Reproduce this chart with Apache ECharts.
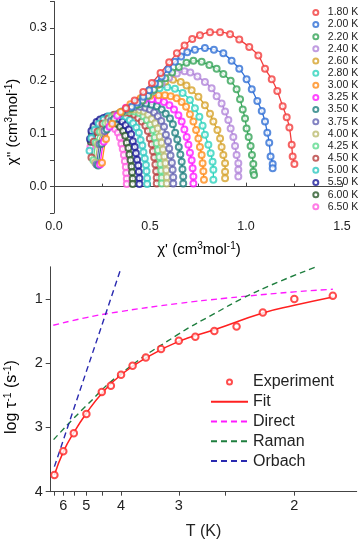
<!DOCTYPE html>
<html>
<head>
<meta charset="utf-8">
<script src="https://cdn.jsdelivr.net/npm/echarts@6/dist/echarts.min.js"></script>
<style>
html,body{margin:0;padding:0;background:#fff;}
#chart{width:358px;height:541px;}
</style>
</head>
<body>
<div id="chart"></div>
<script>
// ---------- Top panel: Cole-Cole data (chi', chi'') ----------
const tempLabels = ['1.80 K','2.00 K','2.20 K','2.40 K','2.60 K','2.80 K','3.00 K','3.25 K','3.50 K','3.75 K','4.00 K','4.25 K','4.50 K','5.00 K','5.50 K','6.00 K','6.50 K'];
const tempColors = ['#f23c3c','#2f6fd6','#35a457','#b184d9','#d6a22a','#2ed3bd','#ff8c1a','#ff1aff','#1f8080','#6464b3','#bcbc70','#5edb8f','#b84040','#2ec8c0','#1a1a99','#2a5a2a','#ff5ce0'];

const cc_180 = [[0.375,0.148],[0.42,0.163],[0.465,0.179],[0.51,0.196],[0.555,0.215],[0.6,0.235],[0.64,0.252],[0.68,0.267],[0.72,0.279],[0.76,0.286],[0.8125,0.292],[0.865,0.292],[0.917,0.288],[0.965,0.278],[1.017,0.264],[1.064,0.248],[1.099,0.223],[1.134,0.203],[1.163,0.181],[1.191,0.152],[1.212,0.131],[1.226,0.112],[1.238,0.079],[1.243,0.057],[1.252,0.043]];
const cc_200 = [[0.405,0.151],[0.434,0.159],[0.465,0.170],[0.496,0.182],[0.526,0.195],[0.561,0.208],[0.595,0.222],[0.63,0.236],[0.662,0.246],[0.694,0.254],[0.734,0.259],[0.786,0.262],[0.833,0.259],[0.882,0.252],[0.925,0.238],[0.965,0.223],[1.003,0.203],[1.03,0.184],[1.059,0.162],[1.082,0.143],[1.099,0.123],[1.111,0.102],[1.121,0.083],[1.128,0.057],[1.139,0.043],[1.139,0.035]];
const cc_220 = [[0.40,0.148],[0.43,0.155],[0.46,0.163],[0.49,0.172],[0.52,0.183],[0.55,0.194],[0.58,0.205],[0.615,0.216],[0.65,0.226],[0.69,0.234],[0.726,0.238],[0.769,0.236],[0.809,0.230],[0.847,0.223],[0.882,0.213],[0.92,0.200],[0.951,0.184],[0.969,0.165],[0.983,0.146],[0.995,0.129],[1.003,0.110],[1.014,0.094],[1.024,0.077],[1.031,0.060],[1.038,0.043],[1.038,0.028],[1.042,0.022]];
const cc_240 = [[0.40,0.148],[0.44,0.158],[0.48,0.170],[0.52,0.182],[0.56,0.195],[0.60,0.206],[0.64,0.214],[0.68,0.218],[0.71,0.216],[0.747,0.208],[0.786,0.198],[0.821,0.186],[0.847,0.171],[0.873,0.157],[0.891,0.142],[0.908,0.126],[0.920,0.110],[0.934,0.094],[0.943,0.077],[0.951,0.060],[0.960,0.044],[0.960,0.032],[0.960,0.019]];
const cc_260 = [[0.40,0.147],[0.43,0.158],[0.465,0.170],[0.50,0.181],[0.54,0.192],[0.58,0.199],[0.62,0.202],[0.66,0.198],[0.69,0.191],[0.717,0.182],[0.752,0.170],[0.786,0.154],[0.8125,0.138],[0.830,0.123],[0.851,0.107],[0.865,0.091],[0.873,0.075],[0.882,0.060],[0.891,0.044],[0.891,0.028],[0.891,0.016]];
const cc_280 = [[0.395,0.147],[0.43,0.159],[0.47,0.170],[0.51,0.180],[0.55,0.186],[0.59,0.188],[0.63,0.185],[0.67,0.177],[0.708,0.164],[0.734,0.148],[0.757,0.132],[0.774,0.115],[0.786,0.098],[0.804,0.079],[0.816,0.063],[0.826,0.047],[0.83,0.032],[0.83,0.013]];
const cc_300 = [[0.25,0.045],[0.271,0.090],[0.303,0.119],[0.347,0.141],[0.398,0.156],[0.451,0.167],[0.501,0.172],[0.545,0.173],[0.578,0.173],[0.608,0.171],[0.639,0.167],[0.665,0.160],[0.688,0.151],[0.708,0.137],[0.726,0.123],[0.740,0.107],[0.752,0.091],[0.760,0.075],[0.769,0.060],[0.774,0.044],[0.778,0.029],[0.781,0.013]];
const cc_325 = [[0.24,0.042],[0.259,0.085],[0.289,0.113],[0.329,0.134],[0.375,0.149],[0.424,0.159],[0.47,0.164],[0.51,0.165],[0.543,0.164],[0.573,0.160],[0.601,0.154],[0.625,0.146],[0.648,0.135],[0.665,0.123],[0.679,0.108],[0.691,0.094],[0.70,0.079],[0.708,0.064],[0.717,0.050],[0.722,0.035],[0.726,0.019],[0.726,0.006]];
const cc_350 = [[0.23,0.040],[0.248,0.081],[0.275,0.108],[0.313,0.128],[0.355,0.142],[0.40,0.151],[0.443,0.156],[0.48,0.157],[0.509,0.155],[0.536,0.152],[0.561,0.146],[0.582,0.138],[0.604,0.129],[0.619,0.118],[0.631,0.102],[0.642,0.089],[0.650,0.075],[0.658,0.061],[0.665,0.047],[0.669,0.033],[0.673,0.019],[0.673,0.006]];
const cc_375 = [[0.222,0.042],[0.238,0.080],[0.263,0.105],[0.297,0.124],[0.336,0.137],[0.377,0.146],[0.416,0.150],[0.45,0.151],[0.476,0.149],[0.50,0.146],[0.522,0.140],[0.541,0.133],[0.559,0.124],[0.573,0.113],[0.583,0.098],[0.594,0.086],[0.600,0.072],[0.607,0.059],[0.614,0.045],[0.618,0.032],[0.621,0.018],[0.621,0.006]];
const cc_400 = [[0.215,0.045],[0.229,0.080],[0.252,0.104],[0.283,0.121],[0.318,0.133],[0.354,0.141],[0.389,0.145],[0.42,0.146],[0.445,0.145],[0.468,0.142],[0.49,0.136],[0.509,0.128],[0.527,0.120],[0.54,0.110],[0.550,0.095],[0.560,0.083],[0.567,0.070],[0.574,0.057],[0.580,0.044],[0.584,0.031],[0.587,0.018],[0.587,0.006]];
const cc_425 = [[0.205,0.050],[0.218,0.083],[0.239,0.104],[0.268,0.120],[0.30,0.131],[0.334,0.138],[0.367,0.142],[0.395,0.143],[0.42,0.142],[0.443,0.139],[0.465,0.133],[0.483,0.126],[0.501,0.117],[0.515,0.107],[0.524,0.093],[0.534,0.082],[0.541,0.069],[0.548,0.056],[0.554,0.043],[0.558,0.030],[0.561,0.017],[0.561,0.006]];
const cc_450 = [[0.195,0.055],[0.207,0.085],[0.227,0.104],[0.253,0.119],[0.283,0.129],[0.314,0.136],[0.344,0.139],[0.37,0.140],[0.395,0.139],[0.418,0.136],[0.439,0.130],[0.457,0.123],[0.476,0.115],[0.489,0.105],[0.499,0.091],[0.509,0.080],[0.515,0.067],[0.522,0.055],[0.528,0.042],[0.532,0.029],[0.535,0.017],[0.535,0.006]];
const cc_500 = [[0.185,0.068],[0.195,0.092],[0.211,0.107],[0.233,0.119],[0.258,0.127],[0.284,0.133],[0.308,0.135],[0.33,0.136],[0.353,0.135],[0.375,0.132],[0.395,0.126],[0.412,0.120],[0.429,0.112],[0.442,0.102],[0.451,0.088],[0.460,0.078],[0.466,0.065],[0.473,0.053],[0.479,0.041],[0.482,0.029],[0.485,0.016],[0.485,0.005]];
const cc_550 = [[0.1875,0.090],[0.195,0.105],[0.206,0.114],[0.222,0.122],[0.24,0.127],[0.259,0.130],[0.276,0.132],[0.292,0.132],[0.315,0.131],[0.336,0.128],[0.356,0.123],[0.373,0.116],[0.39,0.108],[0.402,0.099],[0.411,0.086],[0.421,0.075],[0.427,0.063],[0.433,0.051],[0.439,0.040],[0.442,0.028],[0.445,0.016],[0.445,0.005]];
const cc_600 = [[0.192,0.085],[0.197,0.100],[0.206,0.110],[0.218,0.117],[0.231,0.122],[0.245,0.126],[0.258,0.128],[0.27,0.128],[0.291,0.127],[0.311,0.124],[0.329,0.119],[0.344,0.113],[0.36,0.105],[0.371,0.096],[0.379,0.083],[0.388,0.073],[0.393,0.061],[0.399,0.050],[0.404,0.038],[0.407,0.027],[0.41,0.015],[0.41,0.005]];
const cc_650 = [[0.19,0.075],[0.194,0.092],[0.201,0.104],[0.21,0.112],[0.22,0.117],[0.231,0.122],[0.241,0.124],[0.25,0.124],[0.269,0.123],[0.287,0.120],[0.304,0.115],[0.318,0.109],[0.333,0.102],[0.343,0.093],[0.351,0.081],[0.358,0.071],[0.364,0.060],[0.369,0.048],[0.374,0.037],[0.376,0.026],[0.379,0.015],[0.379,0.005]];
const coleCole = [cc_180,cc_200,cc_220,cc_240,cc_260,cc_280,cc_300,cc_325,cc_350,cc_375,cc_400,cc_425,cc_450,cc_500,cc_550,cc_600,cc_650];

// ---------- Bottom panel: relaxation rate vs T ----------
const T_exp = [6.5,6.0,5.5,5.0,4.5,4.25,4.0,3.75,3.5,3.25,3.0,2.8,2.6,2.4,2.2,2.0,1.8];
const logTau_exp = [3.74,3.37,3.09,2.79,2.45,2.35,2.18,2.04,1.91,1.78,1.65,1.59,1.50,1.43,1.21,1.00,0.95];
const T_fit = [6.5,6.0,5.5,5.0,4.5,4.0,3.5,3.0,2.6,2.2,2.0,1.8];
const logTau_fit = [3.74,3.38,3.08,2.78,2.47,2.18,1.92,1.66,1.48,1.22,1.10,0.97];
const T_direct = [6.57,5.0,4.0,3.0,2.5,2.0,1.8];
const logTau_direct = [1.41,1.29,1.195,1.07,0.99,0.89,0.85];
const T_raman = [6.55,5.0,4.0,3.0,2.6,2.35,2.1,1.88];
const logTau_raman = [3.19,2.66,2.16,1.545,1.23,0.99,0.74,0.50];
const T_orbach = [6.5,4.0];
const logTau_orbach = [3.61,0.52];
const T_tickLabels = [6,5,4,3,2];
const T_tickAll = [6.5,6,5.5,5,4.5,4,3,2.5,2];
const logTau_ticks = [1,2,3,4];

const FONT = "'Liberation Sans', Arial, sans-serif";
const toInvT = (Ts, vals) => Ts.map((t, i) => [1 / t, vals[i]]);

const series = [];
for (let k = coleCole.length - 1; k >= 0; k--) {
  series.push({
    name: 'fit ' + tempLabels[k], type: 'line', xAxisIndex: 0, yAxisIndex: 0,
    data: coleCole[k], smooth: 0.3, showSymbol: false, symbol: 'none',
    lineStyle: { color: tempColors[k], width: 1.3 }, itemStyle: { color: tempColors[k] }, z: 2
  });
  series.push({
    name: tempLabels[k], type: 'scatter', xAxisIndex: 0, yAxisIndex: 0,
    data: coleCole[k], symbol: 'emptyCircle', symbolSize: 6,
    itemStyle: { color: tempColors[k], borderColor: tempColors[k], borderWidth: 1.1 }, z: 3
  });
}
series.push(
  { name: 'Direct', type: 'line', xAxisIndex: 1, yAxisIndex: 1, data: toInvT(T_direct, logTau_direct),
    smooth: true, symbol: 'none', lineStyle: { color: '#ff1aff', width: 1.4, type: [6, 4] }, itemStyle: { color: '#ff1aff' } },
  { name: 'Raman', type: 'line', xAxisIndex: 1, yAxisIndex: 1, data: toInvT(T_raman, logTau_raman),
    smooth: true, symbol: 'none', lineStyle: { color: '#1e7e3e', width: 1.4, type: [6, 4] }, itemStyle: { color: '#1e7e3e' } },
  { name: 'Orbach', type: 'line', xAxisIndex: 1, yAxisIndex: 1, data: toInvT(T_orbach, logTau_orbach),
    symbol: 'none', lineStyle: { color: '#2a2ab0', width: 1.4, type: [6, 4] }, itemStyle: { color: '#2a2ab0' } },
  { name: 'Fit', type: 'line', xAxisIndex: 1, yAxisIndex: 1, data: toInvT(T_fit, logTau_fit),
    smooth: true, symbol: 'none', lineStyle: { color: '#ff2020', width: 1.5 }, itemStyle: { color: '#ff2020' } },
  { name: 'Experiment', type: 'scatter', xAxisIndex: 1, yAxisIndex: 1, data: toInvT(T_exp, logTau_exp),
    symbol: 'emptyCircle', symbolSize: 6.5, itemStyle: { color: '#ff2020', borderColor: '#ff2020', borderWidth: 1.2 }, z: 5 }
);

const axisLineStyle = { lineStyle: { color: '#444', width: 1 } };
const supRich = {
  n: { fontFamily: FONT, fontSize: 15, color: '#222', lineHeight: 18 },
  s: { fontFamily: FONT, fontSize: 10, color: '#222', lineHeight: 10, verticalAlign: 'top' }
};
const supRich16 = {
  n: { fontFamily: FONT, fontSize: 16, color: '#222', lineHeight: 19 },
  s: { fontFamily: FONT, fontSize: 10.5, color: '#222', lineHeight: 10, verticalAlign: 'top' }
};
const noDot = { opacity: 0 };

const option = {
  animation: false,
  backgroundColor: '#fff',
  textStyle: { fontFamily: FONT },
  grid: [
    { left: 54, right: 16, top: 1.5, bottom: 327.9 },
    { left: 50.7, right: 1.3, top: 266.8, bottom: 49.3 }
  ],
  legend: [
    { data: tempLabels, orient: 'vertical', left: 307.3, top: 1.3, itemWidth: 14, itemHeight: 5, itemGap: 0,
      textStyle: { fontFamily: FONT, fontSize: 10.5, color: '#222', lineHeight: 12.15 }, selectedMode: false },
    { data: [
        { name: 'Experiment', icon: 'emptyCircle', itemStyle: { color: '#ff2020', borderColor: '#ff2020', borderWidth: 1 } },
        { name: 'Fit', itemStyle: noDot },
        { name: 'Direct', itemStyle: noDot },
        { name: 'Raman', itemStyle: noDot },
        { name: 'Orbach', itemStyle: noDot }
      ],
      orient: 'vertical', left: 205, top: 367, itemWidth: 37, itemHeight: 5, itemGap: 0,
      textStyle: { fontFamily: FONT, fontSize: 16, color: '#222', lineHeight: 19.8 }, selectedMode: false }
  ],
  xAxis: [
    { gridIndex: 0, type: 'value', min: 0, max: 1.5, interval: 0.5,
      axisLine: axisLineStyle, splitLine: { show: false },
      axisTick: { show: true, inside: true, length: 4, lineStyle: { color: '#444' } },
      minorTick: { show: true, splitNumber: 2, length: 3, lineStyle: { color: '#444' } },
      axisLabel: { fontFamily: FONT, fontSize: 12.5, color: '#222', margin: 7, formatter: v => v.toFixed(1) } },
    { gridIndex: 1, type: 'value', min: 0.1485, max: 0.590,
      axisLine: axisLineStyle, splitLine: { show: false },
      axisTick: { show: true, inside: false, length: 4, customValues: T_tickAll.map(t => 1 / t), lineStyle: { color: '#444' } },
      axisLabel: { fontFamily: FONT, fontSize: 14.5, color: '#222', margin: 7, customValues: T_tickLabels.map(t => 1 / t),
        formatter: v => String(Math.round(1 / v)) } }
  ],
  yAxis: [
    { gridIndex: 0, type: 'value', min: -0.05, max: 0.35, interval: 0.05,
      axisLine: { show: true, lineStyle: { color: '#444', width: 1 } }, splitLine: { show: false },
      axisTick: { show: true, inside: false, length: 4, lineStyle: { color: '#444' } },
      axisLabel: { fontFamily: FONT, fontSize: 12.5, color: '#222', margin: 7,
        formatter: v => (Math.abs(v * 10 - Math.round(v * 10)) < 1e-6 ? (Math.abs(v) < 1e-9 ? 0 : v).toFixed(1) : '') } },
    { gridIndex: 1, type: 'value', min: 0.5, max: 4, inverse: true,
      axisLine: { show: true, lineStyle: { color: '#444', width: 1 } }, splitLine: { show: false },
      axisTick: { show: true, inside: false, length: 5, customValues: logTau_ticks, lineStyle: { color: '#444' } },
      axisLabel: { fontFamily: FONT, fontSize: 14.5, color: '#222', margin: 8, customValues: logTau_ticks,
        formatter: v => String(v) } }
  ],
  graphic: [
    { type: 'text', x: 13, y: 122, rotation: Math.PI / 2,
      style: { text: "{n|χ'' (cm}{s|3}{n|mol}{s|-1}{n|)}", rich: supRich, align: 'center', verticalAlign: 'middle' } },
    { type: 'text', x: 199, y: 250,
      style: { text: "{n|χ' (cm}{s|3}{n|mol}{s|-1}{n|)}", rich: supRich, align: 'center', verticalAlign: 'middle' } },
    { type: 'text', x: 12, y: 397, rotation: Math.PI / 2,
      style: { text: "{n|log τ}{s|-1}{n| (s}{s|-1}{n|)}", rich: supRich16, align: 'center', verticalAlign: 'middle' } },
    { type: 'text', x: 203.5, y: 531.5,
      style: { text: 'T (K)', fontFamily: FONT, fontSize: 16, fill: '#222', align: 'center', verticalAlign: 'middle' } }
  ],
  series: series
};

const chart = echarts.init(document.getElementById('chart'), null, { renderer: 'canvas' });
chart.setOption(option);
</script>
</body>
</html>
